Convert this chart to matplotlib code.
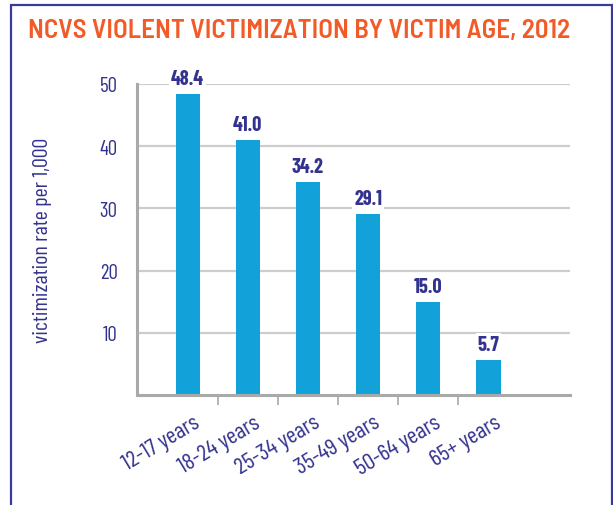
import matplotlib
matplotlib.use("Agg")
import matplotlib.pyplot as plt
from matplotlib import font_manager
from matplotlib.patches import Rectangle
import matplotlib.transforms as mtransforms

categories = ["12-17 years", "18-24 years", "25-34 years", "35-49 years", "50-64 years", "65+ years"]
values = [48.4, 41.0, 34.2, 29.1, 15.0, 5.7]
value_labels = ["48.4", "41.0", "34.2", "29.1", "15.0", "5.7"]
yticks = [10, 20, 30, 40, 50]
title = "NCVS VIOLENT VICTIMIZATION BY VICTIM AGE, 2012"
ylabel = "victimization rate per 1,000"

names = {f.name for f in font_manager.fontManager.ttflist}


def pick(cands):
    for c in cands:
        if c in names:
            return c
    return "DejaVu Sans"


FAM = pick(["Barlow Condensed", "Roboto Condensed", "Archivo Narrow", "DejaVu Sans Condensed"])
FAM2 = pick(["Barlow Semi Condensed", "Barlow Condensed", "Roboto Condensed", "Archivo Narrow"])

NAVY = "#33338f"
BAR = "#12a1d9"
ORANGE = "#f25a27"
GRID = "#cdcdcd"
AXIS = "#a9a9a9"

W, H = 613, 506
fig = plt.figure(figsize=(W / 100, H / 100), dpi=100)
fig.canvas.draw()
R = fig.canvas.get_renderer()


def fit(t, target_w, base):
    t.set_fontsize(base)
    w = t.get_window_extent(R).width
    t.set_fontsize(base * target_w / w)


# frame
fig.add_artist(Rectangle((10.5 / W, -0.05), (612 - 10.5) / W, (H - 5.5) / H + 0.05,
                         transform=fig.transFigure, fill=False,
                         edgecolor="#3a3a9c", linewidth=1.6))

ax = fig.add_axes([137 / W, (H - 396) / H, (570 - 137) / W, (396 - 85) / H])
x = list(range(len(categories)))
ax.bar(x, values, width=0.4, color=BAR, zorder=2)
ax.set_xlim(-0.84, 6.354)
ax.set_ylim(0, 50)

for s in ["top", "right"]:
    ax.spines[s].set_visible(False)
for s in ["left", "bottom"]:
    ax.spines[s].set_color(AXIS)
    ax.spines[s].set_linewidth(2.2)
    ax.spines[s].set_zorder(3)

ax.set_yticks(yticks)
ylabs = ax.set_yticklabels([str(v) for v in yticks], family=FAM, color=NAVY)
fit(ylabs[-1], 18, 15)
for tl in ylabs:
    tl.set_fontsize(ylabs[-1].get_fontsize())
ax.tick_params(axis="y", length=0, pad=14)
for yv in yticks:
    ax.axhline(yv, color=GRID, linewidth=1.6, zorder=1)

ax.set_xticks([i + 0.5 for i in range(len(categories) - 1)])
ax.set_xticklabels([])
ax.tick_params(axis="x", length=7, width=1.2, color=AXIS, direction="out")

off = mtransforms.offset_copy(ax.transData, fig=fig, x=5, y=-17, units="dots")
xl = []
for i, c in enumerate(categories):
    xl.append(ax.text(i, 0, c, transform=off, ha="right", va="top", rotation=0,
                      rotation_mode="anchor", family=FAM, color=NAVY, clip_on=False))
fit(xl[0], 86, 15)
for t in xl:
    t.set_fontsize(xl[0].get_fontsize())
    t.set_rotation(31)

voff = mtransforms.offset_copy(ax.transData, fig=fig, x=0, y=6, units="dots")
vl = []
for i, (v, lab) in enumerate(zip(values, value_labels)):
    vl.append(ax.text(i, v, lab, transform=voff, ha="center", va="bottom", family=FAM,
                      fontweight="bold", color=NAVY, zorder=4, clip_on=False,
                      bbox=dict(facecolor="white", edgecolor="none", pad=1.0)))
fit(vl[0], 33, 15)
for t in vl:
    t.set_fontsize(vl[0].get_fontsize())

yl = fig.text(43 / W, 1 - 240 / H, ylabel, rotation=0, ha="center", va="center",
              family=FAM, color=NAVY)
fit(yl, 205, 15)
yl.set_rotation(90)

t = fig.text(27.5 / W, 1 - 38.5 / H, title, ha="left", va="baseline", family=FAM2,
             fontweight="semibold", color=ORANGE)
fit(t, 541, 20)

fig.savefig("out.png", dpi=100)
